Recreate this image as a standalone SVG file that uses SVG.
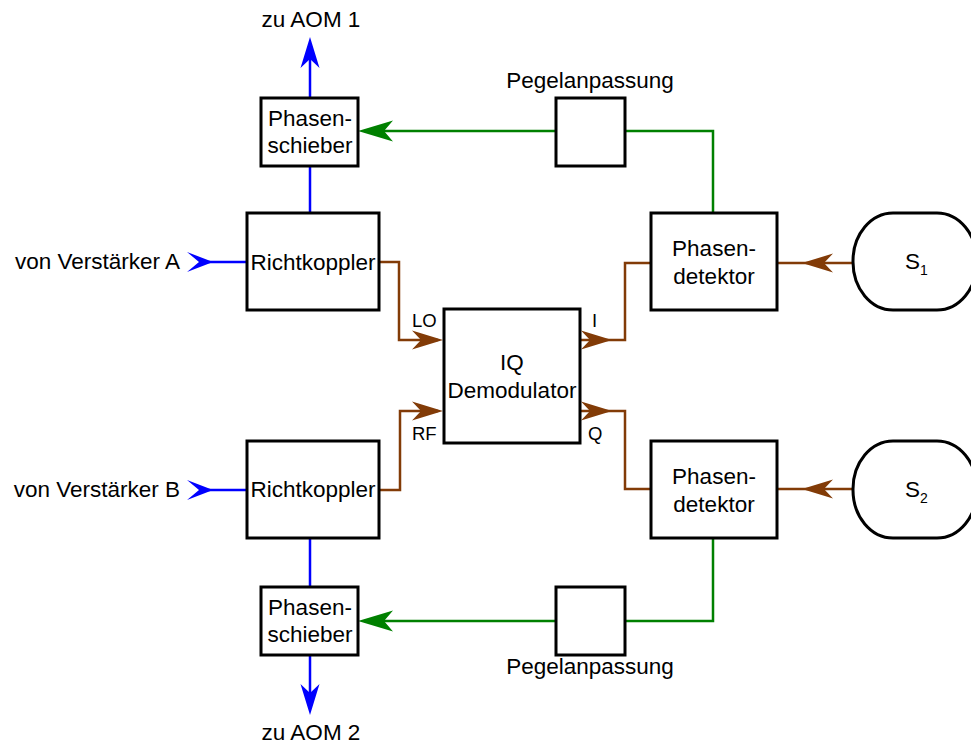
<svg xmlns="http://www.w3.org/2000/svg" xmlns:xlink="http://www.w3.org/1999/xlink" width="971" height="744" viewBox="0 0 971 744">
<style>
.box{fill:#fff;stroke:#000;stroke-width:3}
.t{font-family:"Liberation Sans",Arial,sans-serif;font-size:22.5px;fill:#000}
.s{font-family:"Liberation Sans",Arial,sans-serif;font-size:18.5px;fill:#000}
.c{text-anchor:middle}
.blue{fill:none;stroke:#0000FF;stroke-width:2.5}
.brown{fill:none;stroke:#823B07;stroke-width:2.5}
.green{fill:none;stroke:#008000;stroke-width:2.5}
.ab{fill:#0000FF}
.ar{fill:#823B07}
.ag{fill:#008000}
</style>
<defs>
<path id="ah" d="M0,0 L-31,-9.5 L-22,0 L-31,9.5 Z"/>
<path id="ahs" d="M0,0 L-26,-10 L-14,0 L-26,10 Z"/>
<path id="ahg" d="M0,0 L-35,-10.5 L-26,0 L-35,10.5 Z"/>
</defs>
<g id="connectors">
<path class="blue" d="M310,213 V166 M310,98 V45"/>
<path class="blue" d="M200,262 H247"/>
<path class="blue" d="M310,538 V587 M310,655 V707"/>
<path class="blue" d="M200,490 H247"/>
<path class="brown" d="M379,262 H399 V340 H438"/>
<path class="brown" d="M379,490 H400 V411 H438"/>
<path class="brown" d="M580,340 H625 V263 H651"/>
<path class="brown" d="M580,411 H625 V489 H651"/>
<path class="brown" d="M853,263 H777"/>
<path class="brown" d="M853,489 H777"/>
<path class="green" d="M713,213 V131 H625 M556,131 H364"/>
<path class="green" d="M713,538 V621 H625 M556,621 H364"/>
<use href="#ah" class="ab" transform="translate(310,37) rotate(-90)"/>
<use href="#ah" class="ab" transform="translate(310,715) rotate(90)"/>
<use href="#ahs" class="ab" transform="translate(213,262)"/>
<use href="#ahs" class="ab" transform="translate(213,490)"/>
<use href="#ah" class="ar" transform="translate(443,340)"/>
<use href="#ah" class="ar" transform="translate(443,411)"/>
<use href="#ah" class="ar" transform="translate(612,340)"/>
<use href="#ah" class="ar" transform="translate(612,411)"/>
<use href="#ah" class="ar" transform="translate(802,263) rotate(180)"/>
<use href="#ah" class="ar" transform="translate(802,489) rotate(180)"/>
<use href="#ahg" class="ag" transform="translate(358,131) rotate(180)"/>
<use href="#ahg" class="ag" transform="translate(358,621) rotate(180)"/>
</g>
<g id="ps1"><rect class="box" x="261" y="98" width="97" height="68"/><text class="t c" x="310" y="126">Phasen-</text><text class="t c" x="310" y="153">schieber</text></g>
<g id="rk1"><rect class="box" x="247" y="213" width="132" height="97"/><text class="t c" x="313" y="270">Richtkoppler</text></g>
<g id="iq"><rect class="box" x="444" y="309" width="136" height="134"/><text class="t c" x="512" y="370">IQ</text><text class="t c" x="512" y="398">Demodulator</text></g>
<g id="pd1"><rect class="box" x="651" y="213" width="126" height="97"/><text class="t c" x="714" y="256">Phasen-</text><text class="t c" x="714" y="284">detektor</text></g>
<g id="pa1"><rect class="box" x="556" y="98" width="69" height="68"/></g>
<g id="s1"><rect class="box" x="853" y="213" width="124" height="97" rx="40" ry="48"/><text class="t" x="905" y="269">S<tspan font-size="14" dy="6">1</tspan></text></g>
<g id="rk2"><rect class="box" x="247" y="441" width="132" height="97"/><text class="t c" x="313" y="497">Richtkoppler</text></g>
<g id="ps2"><rect class="box" x="261" y="587" width="97" height="68"/><text class="t c" x="310" y="615">Phasen-</text><text class="t c" x="310" y="642">schieber</text></g>
<g id="pd2"><rect class="box" x="651" y="441" width="126" height="97"/><text class="t c" x="714" y="484">Phasen-</text><text class="t c" x="714" y="512">detektor</text></g>
<g id="pa2"><rect class="box" x="556" y="587" width="69" height="68"/></g>
<g id="s2"><rect class="box" x="853" y="441" width="124" height="97" rx="40" ry="48"/><text class="t" x="905" y="497">S<tspan font-size="14" dy="6">2</tspan></text></g>
<g id="labels">
<text class="t c" x="311" y="27">zu AOM 1</text>
<text class="t c" x="311" y="740">zu AOM 2</text>
<text class="t" x="180" y="269" text-anchor="end">von Verstärker A</text>
<text class="t" x="180" y="497" text-anchor="end">von Verstärker B</text>
<text class="t c" x="590" y="88">Pegelanpassung</text>
<text class="t c" x="590" y="674">Pegelanpassung</text>
<text class="s" x="412" y="327">LO</text>
<text class="s" x="592" y="327">I</text>
<text class="s" x="412" y="440">RF</text>
<text class="s" x="588" y="440">Q</text>
</g>
</svg>
